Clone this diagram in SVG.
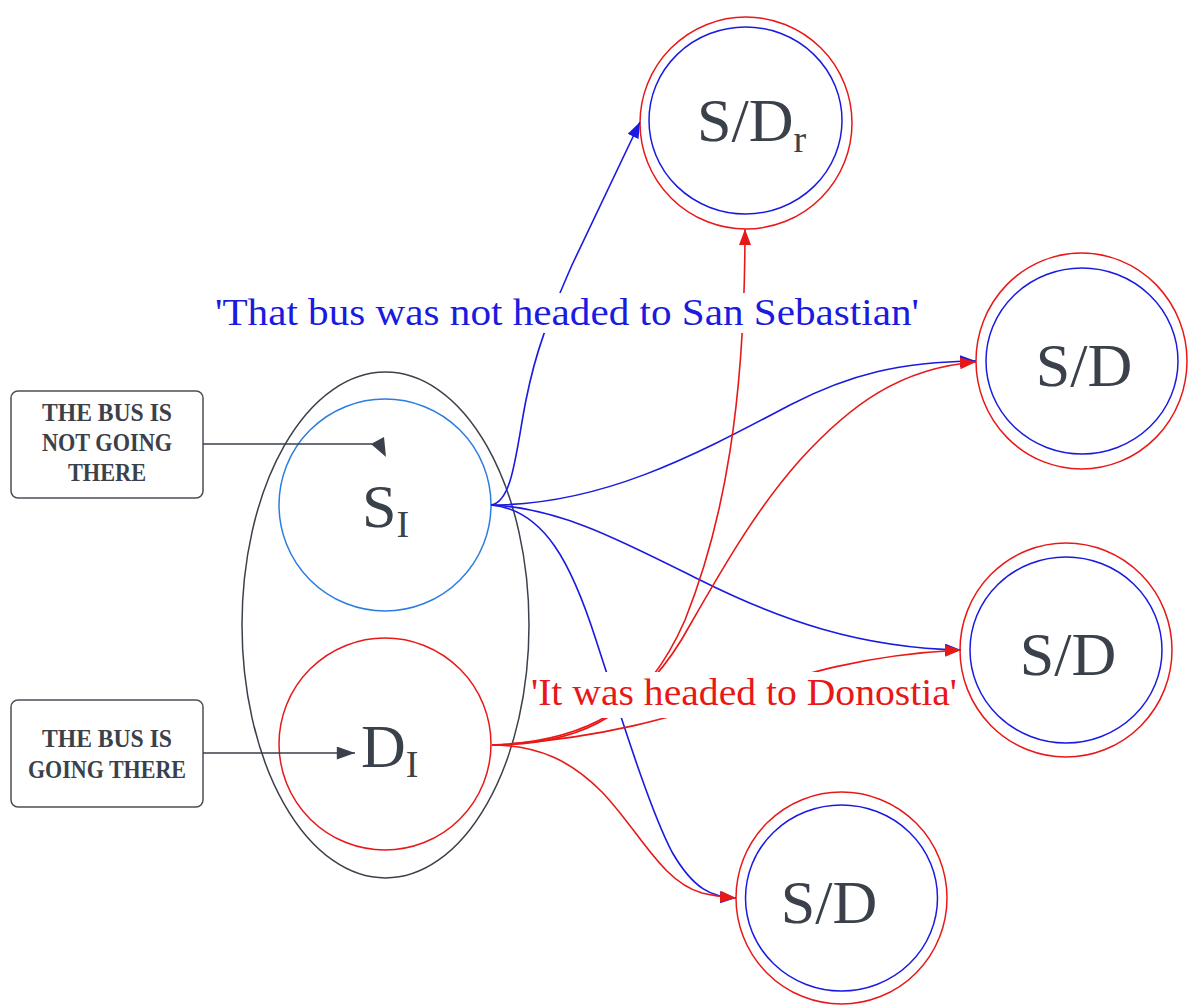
<svg xmlns="http://www.w3.org/2000/svg" width="1192" height="1008" viewBox="0 0 1192 1008">
<style>
.box{fill:#fff;stroke:#4a5058;stroke-width:1.5}
.boxt{font-family:"Liberation Serif",serif;font-weight:bold;font-size:25px;fill:#3a414a;text-anchor:middle}
.node{font-family:"Liberation Serif",serif;font-size:62px;fill:#3a414a}
.sub{font-size:38px}
.eb{fill:none;stroke:#1a1ae0;stroke-width:1.6}
.er{fill:none;stroke:#e81818;stroke-width:1.6}
.ok{fill:none;stroke:#e81818;stroke-width:1.5}
.ib{fill:none;stroke:#1a1ae0;stroke-width:1.5}
.lbl{font-family:"Liberation Serif",serif;font-size:37px}
</style>
<defs>
<marker id="mb" viewBox="0 0 16 12" refX="16" refY="6" markerWidth="16" markerHeight="12" markerUnits="userSpaceOnUse" orient="auto"><path d="M0,0 L16,6 L0,12 Z" fill="#1a1ae0"/></marker>
<marker id="mr" viewBox="0 0 16 12" refX="16" refY="6" markerWidth="16" markerHeight="12" markerUnits="userSpaceOnUse" orient="auto"><path d="M0,0 L16,6 L0,12 Z" fill="#e81818"/></marker>
<marker id="mk" viewBox="0 0 14 10" refX="14" refY="5" markerWidth="19" markerHeight="13" markerUnits="userSpaceOnUse" orient="auto"><path d="M0,0 L14,5 L0,10 Z" fill="#3a414a"/></marker>
</defs>
<rect width="1192" height="1008" fill="#fff"/>

<g id="group-ellipse">
<ellipse cx="385.5" cy="625" rx="143.5" ry="253" fill="none" stroke="#3a414a" stroke-width="1.5"/>
</g>

<g id="node-SI">
<circle cx="385" cy="505" r="106" fill="none" stroke="#2a7de1" stroke-width="1.5"/>
<text class="node" x="362" y="527">S<tspan class="sub" dy="10">I</tspan></text>
</g>

<g id="node-DI">
<circle cx="385" cy="744" r="106" fill="none" stroke="#e81818" stroke-width="1.5"/>
<text class="node" x="361" y="767">D<tspan class="sub" dy="10">I</tspan></text>
</g>

<g id="box-not-going">
<rect class="box" x="11" y="391" width="192" height="107" rx="7"/>
<text class="boxt" x="107" y="421" textLength="130" lengthAdjust="spacingAndGlyphs">THE BUS IS</text>
<text class="boxt" x="107" y="451" textLength="130" lengthAdjust="spacingAndGlyphs">NOT GOING</text>
<text class="boxt" x="107" y="481" textLength="78" lengthAdjust="spacingAndGlyphs">THERE</text>
</g>

<g id="box-going">
<rect class="box" x="11" y="700" width="192" height="107" rx="7"/>
<text class="boxt" x="107" y="747" textLength="130" lengthAdjust="spacingAndGlyphs">THE BUS IS</text>
<text class="boxt" x="107" y="778" textLength="158" lengthAdjust="spacingAndGlyphs">GOING THERE</text>
</g>

<g id="node-SDr">
<circle class="ok" cx="746" cy="123" r="106"/>
<ellipse class="ib" cx="745.5" cy="120.5" rx="96.5" ry="93.5"/>
<text class="node" x="697" y="141">S/D<tspan class="sub" dy="11">r</tspan></text>
</g>

<g id="node-SD1">
<ellipse class="ok" cx="1081.5" cy="361" rx="105.5" ry="108"/>
<ellipse class="ib" cx="1082" cy="361" rx="96" ry="93"/>
<text class="node" x="1084" y="386" text-anchor="middle">S/D</text>
</g>

<g id="node-SD2">
<ellipse class="ok" cx="1066" cy="650" rx="106" ry="107"/>
<ellipse class="ib" cx="1066" cy="650" rx="96" ry="93"/>
<text class="node" x="1068" y="675" text-anchor="middle">S/D</text>
</g>

<g id="node-SD3">
<ellipse class="ok" cx="841.5" cy="898" rx="105.5" ry="106"/>
<ellipse class="ib" cx="841.5" cy="898" rx="96" ry="93"/>
<text class="node" x="829" y="923" text-anchor="middle">S/D</text>
</g>

<g id="connectors">
<path d="M203,444 L372,444" fill="none" stroke="#3a414a" stroke-width="1.5"/>
<polygon points="371,444 384,437 386,457" fill="#3a414a"/>
<path d="M203,753 L355,753" fill="none" stroke="#3a414a" stroke-width="1.5" marker-end="url(#mk)"/>

<path class="eb" d="M491,505 C513,502 516,450 526,400 C536,350 548,320 572,265 L640,122" marker-end="url(#mb)"/>
<path class="eb" d="M491,505 C600,505 690,458 790,405 C850,374 900,362 976,361" marker-end="url(#mb)"/>
<path class="eb" d="M491,505 C560,508 620,540 700,580 C780,620 860,648 961,650" marker-end="url(#mb)"/>
<path class="eb" d="M491,505 C545,510 572,565 596,640 C622,720 650,810 672,852 C694,890 712,897 736,898" marker-end="url(#mb)"/>

<path class="er" d="M492,745 C585,745 645,712 685,620 C725,520 745,400 745,229" marker-end="url(#mr)"/>
<path class="er" d="M492,745 C585,742 645,708 690,625 C730,555 760,505 800,460 C850,405 900,368 976,362" marker-end="url(#mr)"/>
<path class="er" d="M492,745 C600,740 680,715 740,695 C800,675 860,655 961,650" marker-end="url(#mr)"/>
<path class="er" d="M492,745 C540,745 572,762 602,792 C640,832 662,882 702,893 C714,896 724,897 736,898" marker-end="url(#mr)"/>

<rect x="212" y="293" width="712" height="40" fill="#fff"/>
<text class="lbl" x="567" y="325" text-anchor="middle" fill="#1a1ae0" textLength="704" lengthAdjust="spacingAndGlyphs">'That bus was not headed to San Sebastian'</text>
<rect x="528" y="672" width="432" height="46" fill="#fff"/>
<text class="lbl" x="744" y="705" text-anchor="middle" fill="#e81818" textLength="426" lengthAdjust="spacingAndGlyphs">'It was headed to Donostia'</text>
</g>
</svg>
